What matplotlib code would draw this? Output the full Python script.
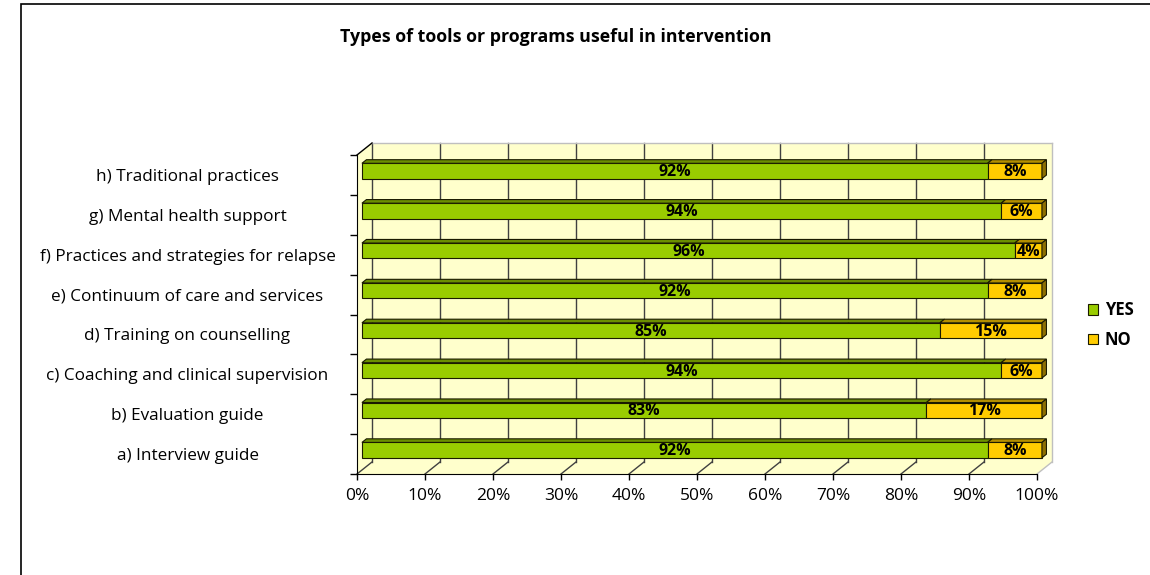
import numpy as np
import matplotlib.pyplot as plt
from matplotlib.patches import Polygon, Rectangle, Patch

plt.rcParams['font.family'] = ['Open Sans', 'DejaVu Sans']

# Survey answers, bottom category first
categories = ["a) Interview guide",
              "b) Evaluation guide",
              "c) Coaching and clinical supervision",
              "d) Training on counselling",
              "e) Continuum of care and services",
              "f) Practices and strategies for relapse",
              "g) Mental health support",
              "h) Traditional practices"]
yes = [92, 83, 94, 85, 92, 96, 94, 92]
no = [8, 17, 6, 15, 8, 4, 6, 8]
series = ["YES", "NO"]

face_col = ["#99CC00", "#FFCC00"]
top_col = ["#6B8F00", "#B38F00"]
side_col = ["#55720A", "#8C6E00"]
wall_col = "#FFFFCC"

W, H = 1150, 575
fig = plt.figure(figsize=(W / 100, H / 100), dpi=100)
fig.patch.set_facecolor("white")

# front plane of the 3-D box, in pixels
x0_px, x1_px, y0_px, y1_px = 357, 1037, 474, 155
ax = fig.add_axes([x0_px / W, 1 - y0_px / H, (x1_px - x0_px) / W, (y0_px - y1_px) / H])
ax.set_xlim(0, 100)
ax.set_ylim(-0.5, 7.5)
ax.patch.set_visible(False)

# depth of the box expressed in data units
px_x = (x1_px - x0_px) / 100.0
px_y = (y0_px - y1_px) / 8.0
dx, dy = 15 / px_x, 12 / px_y
ylo, yhi = -0.5, 7.5

# walls and floor
wall = Polygon([(dx, ylo + dy), (100 + dx, ylo + dy), (100 + dx, yhi + dy), (dx, yhi + dy)],
               closed=True, fc=wall_col, ec="none", zorder=0, clip_on=False)
floor = Polygon([(0, ylo), (100, ylo), (100 + dx, ylo + dy), (dx, ylo + dy)],
                closed=True, fc=wall_col, ec="none", zorder=0, clip_on=False)
side = Polygon([(0, ylo), (dx, ylo + dy), (dx, yhi + dy), (0, yhi)],
               closed=True, fc=wall_col, ec="none", zorder=0, clip_on=False)
for p in (wall, floor, side):
    ax.add_patch(p)

# gridlines on back wall and floor
for g in range(0, 101, 10):
    c = "#BFBFBF" if g == 100 else "#404040"
    ax.plot([g + dx, g + dx], [ylo + dy, yhi + dy], color=c, lw=1, zorder=1, clip_on=False)
    ax.plot([g, g + dx], [ylo, ylo + dy], color=c, lw=1, zorder=1, clip_on=False)
ax.plot([dx, 100 + dx], [yhi + dy, yhi + dy], color="#BFBFBF", lw=1, zorder=1, clip_on=False)
ax.plot([0, dx], [yhi, yhi + dy], color="black", lw=1, zorder=1, clip_on=False)

# 3-D stacked bars
bh = 0.385
ox, oy = 0.33 * dx, 0.33 * dy          # bar front face offset into the box
bx, by = 0.3 * dx, 0.3 * dy            # bar depth
ypos = np.arange(len(categories))
left = np.zeros(len(categories))
for k, vals in enumerate([yes, no]):
    vals = np.array(vals, dtype=float)
    ax.barh(ypos + oy, vals, left=left + ox, height=bh, color=face_col[k],
            edgecolor="#1A1A00", linewidth=0.8, zorder=3, clip_on=False)
    for i, (l, v) in enumerate(zip(left, vals)):
        yt = i + oy + bh / 2
        top = Polygon([(l + ox, yt), (l + v + ox, yt), (l + v + ox + bx, yt + by), (l + ox + bx, yt + by)],
                      closed=True, fc=top_col[k], ec="#1A1A00", lw=0.8, zorder=3, clip_on=False)
        ax.add_patch(top)
        if k == 1:
            xr = l + v + ox
            yb = i + oy - bh / 2
            sf = Polygon([(xr, yb), (xr + bx, yb + by), (xr + bx, yt + by), (xr, yt)],
                         closed=True, fc=side_col[k], ec="#1A1A00", lw=0.8, zorder=3, clip_on=False)
            ax.add_patch(sf)
        ax.text(l + ox + v / 2, i + oy - 0.03, f"{int(v)}%", ha="center", va="center",
                fontsize=11.5, fontweight="bold", zorder=4)
    left = left + vals

# axes, ticks and labels
for s in ("top", "right"):
    ax.spines[s].set_visible(False)
ax.spines["left"].set_zorder(2)
ax.spines["bottom"].set_zorder(2)
ax.set_xticks(range(0, 101, 10))
ax.set_xticklabels([f"{t}%" for t in range(0, 101, 10)], fontsize=12.5)
ax.tick_params(axis="x", direction="out", length=4, width=1, pad=6)
ax.set_yticks(np.arange(-0.5, 8, 1), minor=True)
ax.set_yticks(ypos)
ax.set_yticklabels(categories, fontsize=12.3)
ax.tick_params(axis="y", which="minor", direction="out", length=5, width=1)
ax.tick_params(axis="y", which="major", length=0, pad=122)
for lbl in ax.get_yticklabels():
    lbl.set_ha("center")

fig.text(556 / W, 1 - 37 / H, "Types of tools or programs useful in intervention",
         ha="center", va="center", fontsize=12.8, fontweight="bold")

handles = [Patch(facecolor=face_col[k], edgecolor="#1A1A00", lw=0.8) for k in range(2)]
leg = fig.legend(handles, series, loc="center left", bbox_to_anchor=(1088 / W, 1 - 325 / H),
                 frameon=False, borderpad=0, borderaxespad=0,
                 handlelength=0.6, handleheight=0.6, handletextpad=0.4,
                 labelspacing=0.7, prop={"weight": "bold", "size": 12})

# chart area border
fig.add_artist(Rectangle((21 / W, -0.1), 1.0, 1.1 - 4 / H, transform=fig.transFigure,
                         fill=False, ec="black", lw=1.2))

fig.savefig("out.png", dpi=100)
